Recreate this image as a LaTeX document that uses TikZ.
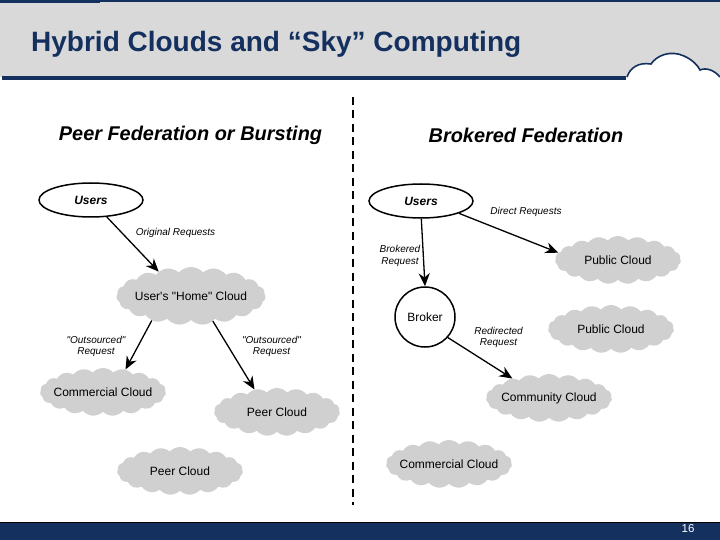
\documentclass[tikz,border=0pt]{standalone}
\usepackage{fontspec}
\setmainfont{Liberation Sans}
\newfontfamily\rawfont{Liberation Sans}
\usepackage{tikz}
\usetikzlibrary{shapes.symbols,shapes.geometric,arrows.meta}
\definecolor{navy}{HTML}{14305F}
\definecolor{band}{HTML}{D9D9D9}
\definecolor{puff}{HTML}{D0D0D0}
\tikzset{
	cloudbox/.style={shape=cloud,cloud puffs=19,cloud puff arc=95,cloud ignores aspect,fill=puff,inner sep=0pt,minimum width=126pt,minimum height=48pt,label={[font=\rawfont\fontsize{12}{12}\selectfont,inner sep=0pt]center:#1}},
	usersbox/.style={shape=ellipse,draw=black,line width=1.5pt,inner sep=0pt,minimum width=104pt,minimum height=34pt,font=\fontsize{12}{12}\selectfont\bfseries\itshape},
	brokerbox/.style={shape=circle,draw=black,line width=1.5pt,inner sep=0pt,minimum size=60pt,font=\fontsize{12}{12}\selectfont},
	note/.style={font=\rawfont\fontsize{10}{11.5}\selectfont\itshape,align=center,inner sep=0pt},
	heading/.style={font=\fontsize{19.9}{20}\selectfont\bfseries\itshape,inner sep=0pt},
	request/.style={-{Stealth[length=13pt,width=11pt]},line width=1.3pt},
}
\begin{document}
\begin{tikzpicture}[x=1pt,y=-1pt]
		\useasboundingbox (0,0) rectangle (720,540);
		\fill[white] (0,0) rectangle (720,540);
		% header and footer
		\fill[band] (0,2) rectangle (720,77);
		\fill[navy] (0,0) rectangle (720,2);
		\fill[navy] (0,0) rectangle (100,3);
		\fill[navy] (2,76) rectangle (626,80);
		\fill[white] (626,78) .. controls (629,68) and (638,62) .. (651,64) .. controls (657,55) and (671,50) .. (684,56) .. controls (693,60) and (698,66) .. (700,70) .. controls (707,67) and (715,71) .. (720,77) -- (720,80) -- (626,80) -- cycle;
		\draw[navy,line width=1.6pt] (627,77) .. controls (630,68) and (638,62) .. (651,64) .. controls (657,55) and (671,50) .. (684,56) .. controls (693,60) and (698,66) .. (700,70) .. controls (707,67) and (715,71) .. (720,77);
		\node[text=navy,font=\fontsize{28}{28}\selectfont\bfseries,anchor=west,inner sep=0pt] (title) at (31,44.5) {Hybrid Clouds and “Sky” Computing};
		\fill[navy] (0,522) rectangle (720,540);
		\draw[black,line width=0.7pt] (0,522) -- (720,522);
		\node[text=white,font=\fontsize{11.5}{12}\selectfont,inner sep=0pt] (page) at (688,528.5) {16};
		% divider
		\coordinate (top) at (353,97);
		\coordinate (bottom) at (353,505);
		\draw[line width=2pt,dash pattern=on 8pt off 5.5pt] (top) -- (bottom);
		% left side
		\node[heading] (left) at (190.5,135) {Peer Federation or Bursting};
		\node[usersbox] (usersA) at (91,200) {Users};
		\node[cloudbox={User's "Home" Cloud},minimum width=149pt,minimum height=58pt] (home) at (191,296) {};
		\node[cloudbox={Commercial Cloud}] (commercialA) at (103,392) {};
		\node[cloudbox={Peer Cloud}] (peerA) at (277,412) {};
		\node[cloudbox={Peer Cloud}] (peerB) at (180,471) {};
		\node[note] (original) at (175.5,233) {Original Requests};
		\node[note] (outA) at (96,346.5) {"Outsourced"\\Request};
		\node[note] (outB) at (271.5,346.5) {"Outsourced"\\Request};
		\draw[request] (usersA.-47) -- (home.143);
		\draw[request] (home.-148) -- (commercialA.45);
		\draw[request] (home.-49) -- (peerA.135);
		% right side
		\node[heading] (right) at (526,135) {Brokered Federation};
		\node[usersbox] (usersB) at (421,201) {Users};
		\node[brokerbox] (broker) at (425,317) {Broker};
		\node[cloudbox={Public Cloud}] (publicA) at (618,260) {};
		\node[cloudbox={Public Cloud}] (publicB) at (611,329) {};
		\node[cloudbox={Community Cloud}] (community) at (549,398) {};
		\node[cloudbox={Commercial Cloud}] (commercialB) at (449,464) {};
		\node[note] (direct) at (526,212) {Direct Requests};
		\node[note] (brokered) at (400,256) {Brokered\\Request};
		\node[note] (redirected) at (498.5,337.5) {Redirected\\Request};
		\draw[request] (usersB.-89) -- (broker.90);
		\draw[request] (usersB.-18) -- (publicA.173);
		\draw[request] (broker.-42) -- (community.152);
		\end{tikzpicture}
\end{document}
